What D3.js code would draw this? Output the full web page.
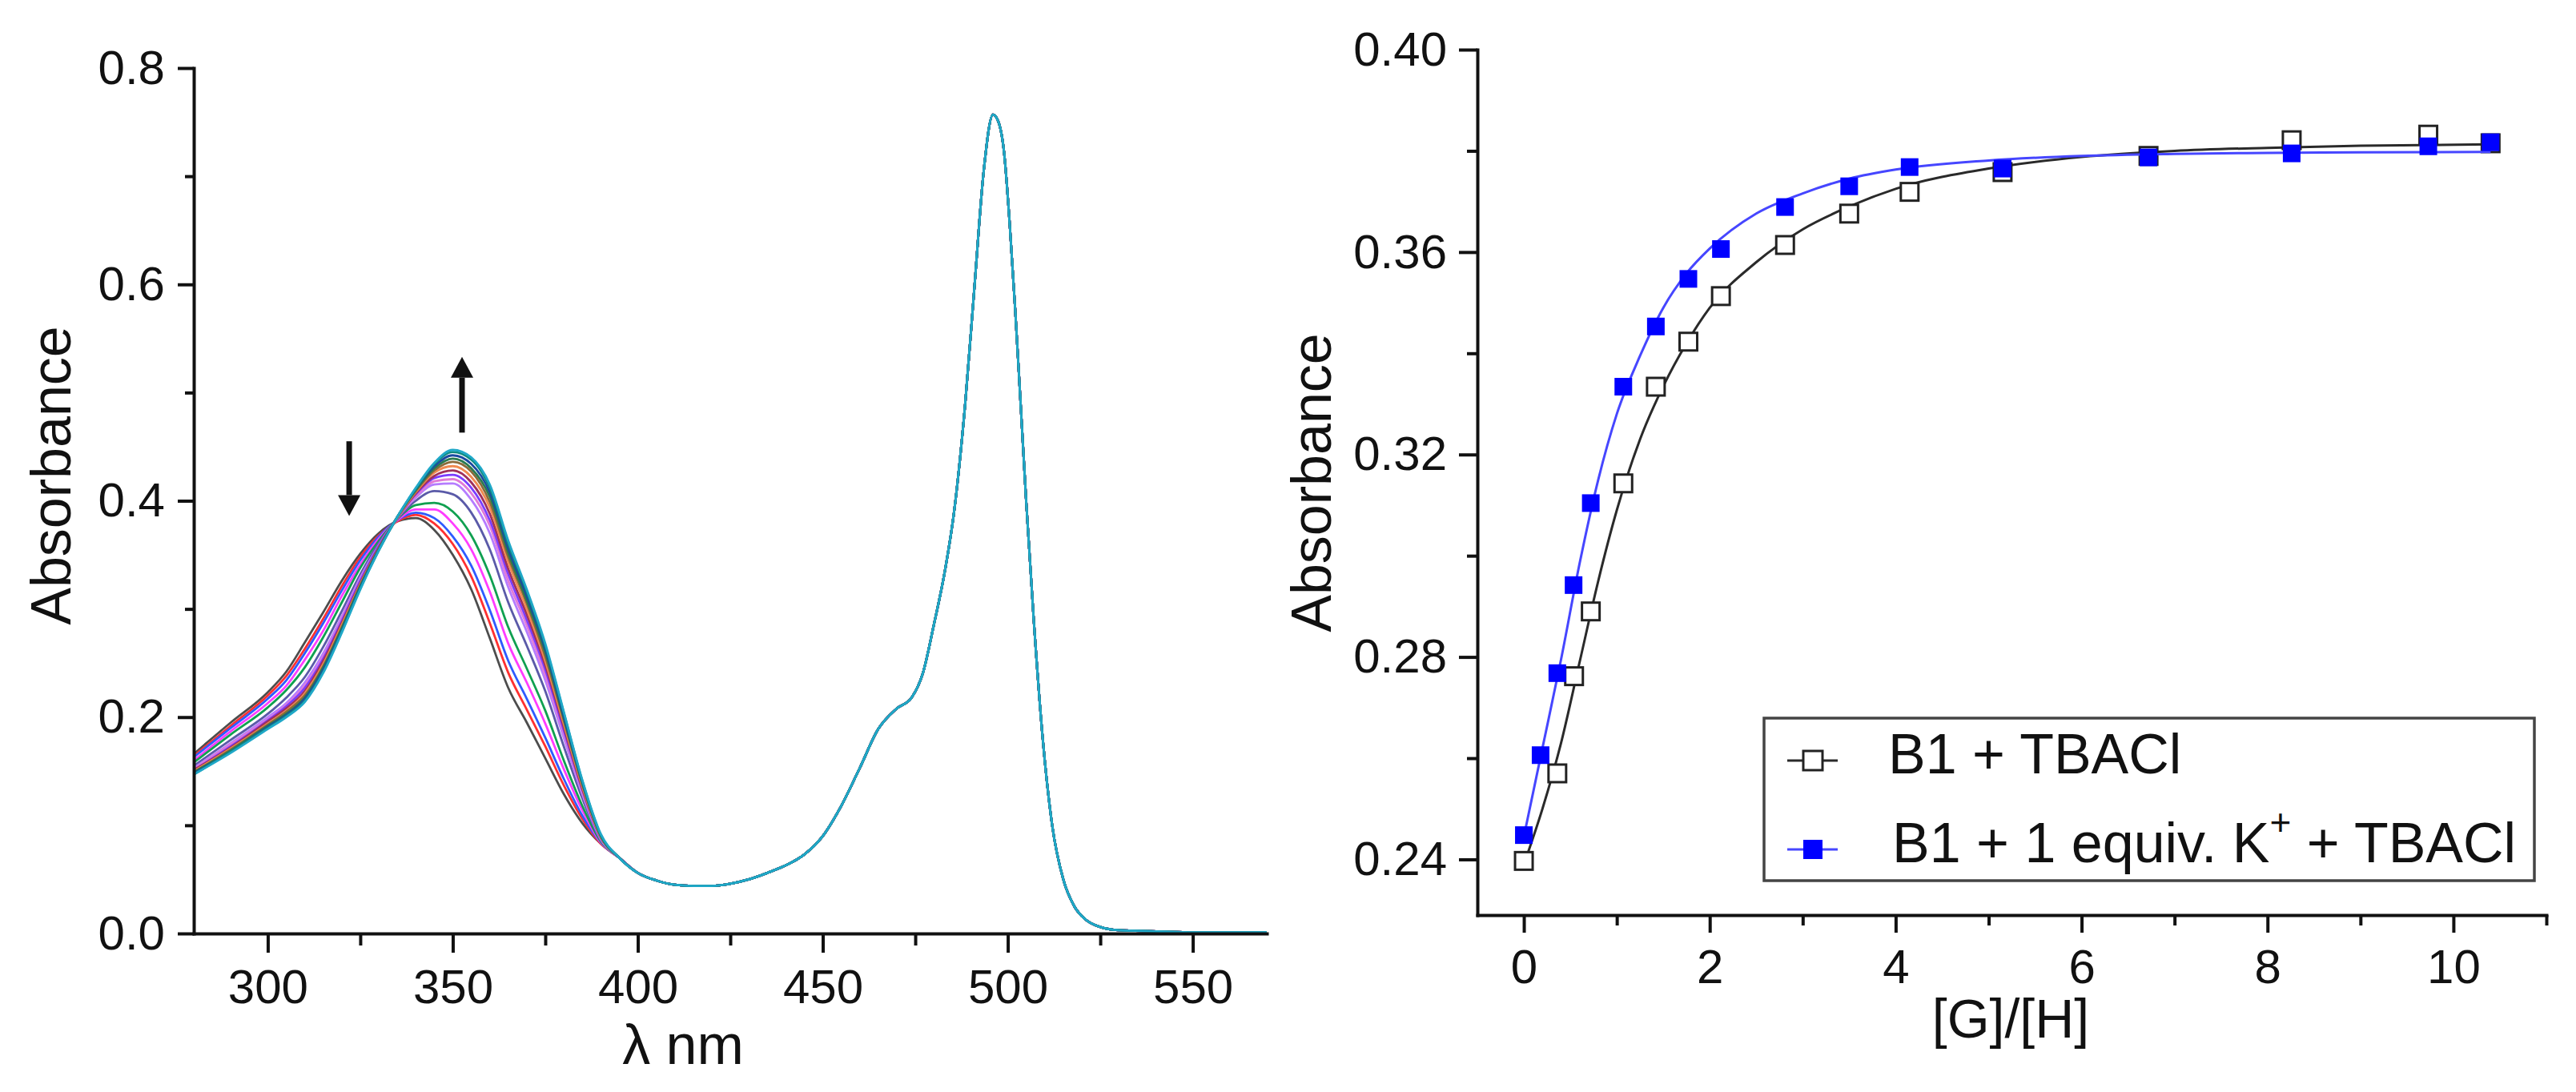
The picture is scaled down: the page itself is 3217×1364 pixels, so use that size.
<!DOCTYPE html>
<html>
<head>
<meta charset="utf-8">
<script src="https://cdn.jsdelivr.net/npm/d3@7/dist/d3.min.js"></script>
<style>
  body { margin: 0; background: #ffffff; }
  svg text { font-family: "Liberation Sans", Arial, sans-serif; fill: #111; }
</style>
</head>
<body>
<script>
// ---------- left panel: UV-vis titration spectra ----------
// wavelengths where the spectra differ (nm)
const headNm = [280, 290, 300, 305, 310, 315, 320, 325, 330, 335, 340, 345, 350, 355, 360, 365, 370, 375, 380, 385, 390];

// one row per spectrum, first (grey) to last (cyan)
const titrationAbs = [
  [0.166, 0.195, 0.223, 0.242, 0.269, 0.297, 0.326, 0.351, 0.370, 0.381, 0.384, 0.373, 0.350, 0.318, 0.273, 0.227, 0.195, 0.162, 0.129, 0.102, 0.083],
  [0.164, 0.192, 0.220, 0.238, 0.263, 0.291, 0.321, 0.348, 0.368, 0.381, 0.387, 0.379, 0.360, 0.330, 0.287, 0.241, 0.207, 0.173, 0.137, 0.106, 0.083],
  [0.163, 0.190, 0.217, 0.234, 0.259, 0.287, 0.317, 0.345, 0.367, 0.382, 0.389, 0.384, 0.367, 0.340, 0.299, 0.252, 0.217, 0.181, 0.143, 0.109, 0.084],
  [0.160, 0.187, 0.213, 0.229, 0.253, 0.280, 0.312, 0.341, 0.365, 0.382, 0.392, 0.392, 0.379, 0.355, 0.316, 0.268, 0.232, 0.194, 0.152, 0.114, 0.084],
  [0.158, 0.184, 0.209, 0.225, 0.246, 0.274, 0.306, 0.338, 0.363, 0.383, 0.396, 0.398, 0.390, 0.368, 0.331, 0.283, 0.245, 0.206, 0.160, 0.118, 0.085],
  [0.155, 0.179, 0.203, 0.218, 0.237, 0.265, 0.298, 0.332, 0.361, 0.383, 0.400, 0.409, 0.406, 0.389, 0.355, 0.306, 0.266, 0.224, 0.173, 0.125, 0.086],
  [0.153, 0.176, 0.200, 0.213, 0.232, 0.259, 0.293, 0.329, 0.359, 0.384, 0.403, 0.415, 0.416, 0.401, 0.370, 0.320, 0.279, 0.234, 0.181, 0.129, 0.087],
  [0.152, 0.175, 0.198, 0.211, 0.229, 0.256, 0.291, 0.327, 0.358, 0.384, 0.404, 0.418, 0.420, 0.407, 0.377, 0.326, 0.285, 0.239, 0.185, 0.131, 0.088],
  [0.151, 0.173, 0.197, 0.210, 0.227, 0.254, 0.289, 0.326, 0.358, 0.384, 0.406, 0.421, 0.424, 0.412, 0.382, 0.332, 0.290, 0.244, 0.188, 0.133, 0.088],
  [0.151, 0.172, 0.196, 0.208, 0.224, 0.252, 0.287, 0.324, 0.357, 0.384, 0.407, 0.423, 0.428, 0.417, 0.388, 0.337, 0.295, 0.248, 0.191, 0.134, 0.089],
  [0.150, 0.171, 0.194, 0.206, 0.222, 0.249, 0.285, 0.323, 0.356, 0.384, 0.408, 0.426, 0.432, 0.422, 0.394, 0.343, 0.300, 0.252, 0.194, 0.136, 0.089],
  [0.149, 0.170, 0.193, 0.205, 0.220, 0.247, 0.283, 0.322, 0.356, 0.385, 0.409, 0.428, 0.436, 0.427, 0.399, 0.348, 0.305, 0.256, 0.197, 0.138, 0.090],
  [0.149, 0.169, 0.192, 0.203, 0.218, 0.246, 0.282, 0.321, 0.355, 0.385, 0.410, 0.430, 0.439, 0.430, 0.404, 0.352, 0.308, 0.260, 0.199, 0.139, 0.090],
  [0.148, 0.168, 0.191, 0.202, 0.217, 0.244, 0.280, 0.320, 0.355, 0.385, 0.411, 0.432, 0.442, 0.434, 0.408, 0.356, 0.312, 0.263, 0.201, 0.140, 0.091],
  [0.147, 0.168, 0.190, 0.201, 0.215, 0.242, 0.279, 0.319, 0.354, 0.385, 0.411, 0.434, 0.445, 0.438, 0.412, 0.360, 0.316, 0.266, 0.204, 0.141, 0.091],
  [0.147, 0.167, 0.189, 0.200, 0.214, 0.241, 0.278, 0.318, 0.354, 0.385, 0.412, 0.435, 0.447, 0.440, 0.415, 0.363, 0.318, 0.268, 0.205, 0.142, 0.092]
];

// part of the spectrum shared by all curves
const tailNm  = [395, 400, 405, 410, 415, 420, 425, 430, 435, 440, 445, 450, 455, 460, 465, 470, 474, 477, 480, 483, 485.5, 488.5, 491, 493.5, 496, 497.5, 499, 500.5, 502, 503.5, 505, 507, 509.5, 512, 515, 518, 521, 525, 530, 540, 550, 570];
const tailAbs = [0.070, 0.056, 0.049, 0.045, 0.044, 0.044, 0.046, 0.050, 0.056, 0.063, 0.073, 0.090, 0.118, 0.153, 0.189, 0.208, 0.218, 0.240, 0.285, 0.335, 0.390, 0.490, 0.598, 0.705, 0.757, 0.750, 0.722, 0.657, 0.577, 0.488, 0.398, 0.291, 0.178, 0.100, 0.050, 0.025, 0.013, 0.006, 0.003, 0.002, 0.001, 0.001];

const spectrumColours = ["#4d4d4d", "#ff3030", "#2e5bff", "#ff3cff", "#10a050", "#5a5aa8", "#b57cff", "#e07ad8",
                         "#7a3cff", "#a0305a", "#f08a50", "#8a6a3a", "#2a7a50", "#1a4aa0", "#0f8a80", "#20a8c8"];

// arrows: wavelength, start and tip absorbance
const arrowNm   = [322, 352.5];
const arrowFrom = [0.455, 0.463];
const arrowTo   = [0.386, 0.533];

const nmTicks = [300, 350, 400, 450, 500, 550];
const nmMinor = [325, 375, 425, 475, 525];
const absTicksL = [0, 0.2, 0.4, 0.6, 0.8];
const absMinorL = [0.1, 0.3, 0.5, 0.7];

// ---------- right panel: titration isotherms ----------
const ratioB1 = [0, 0.36, 0.54, 0.72, 1.07, 1.42, 1.77, 2.12, 2.81, 3.5, 4.15, 5.15, 6.72, 8.26, 9.73, 10.4];
const absB1   = [0.2397, 0.2570, 0.2762, 0.2890, 0.3143, 0.3334, 0.3423, 0.3513, 0.3614, 0.3676, 0.3719, 0.3758, 0.3790, 0.3821, 0.3832, 0.3815];

const ratioB1K = [0, 0.18, 0.36, 0.535, 0.72, 1.07, 1.42, 1.77, 2.12, 2.81, 3.5, 4.15, 5.15, 6.72, 8.26, 9.73, 10.4];
const absB1K   = [0.2448, 0.2606, 0.2768, 0.2942, 0.3104, 0.3334, 0.3453, 0.3547, 0.3606, 0.3689, 0.3730, 0.3768, 0.3765, 0.3787, 0.3795, 0.3809, 0.3817];

// fitted curves
const fitRatio = [0, 0.2, 0.4, 0.6, 0.8, 1.0, 1.25, 1.5, 1.75, 2.0, 2.5, 3.0, 3.5, 4.0, 5.0, 6.0, 7.0, 8.0, 9.0, 10.4];
const fitB1    = [0.2390, 0.2500, 0.2630, 0.2790, 0.2950, 0.3090, 0.3230, 0.3335, 0.3420, 0.3490, 0.3580, 0.3645, 0.3690, 0.3725, 0.3765, 0.3788, 0.3800, 0.3806, 0.3810, 0.3813];
const fitB1K   = [0.2445, 0.2620, 0.2795, 0.2985, 0.3150, 0.3280, 0.3395, 0.3490, 0.3558, 0.3607, 0.3676, 0.3716, 0.3745, 0.3763, 0.3781, 0.3790, 0.3794, 0.3796, 0.3797, 0.3798];

const legendLabels = ["B1 + TBACl", "B1 + 1 equiv. K"];

const ratioTicks = [0, 2, 4, 6, 8, 10];
const ratioMinor = [1, 3, 5, 7, 9, 11];
const absTicksR = [0.24, 0.28, 0.32, 0.36, 0.40];
const absMinorR = [0.26, 0.30, 0.34, 0.38];

// ---------- drawing ----------
const W = 3217, H = 1364;
const FONT = "'Liberation Sans', Arial, sans-serif";

const svg = d3.select("body")
  .append("svg")
    .attr("width", W)
    .attr("height", H);

function styleAxis(g, fontSize) {
  g.attr("font-family", FONT).attr("font-size", fontSize);
  g.selectAll("path, line").attr("stroke", "#111").attr("stroke-width", 4);
  g.select(".domain").attr("stroke-linecap", "square");
  g.selectAll("text").attr("fill", "#111").style("font-size", fontSize + "px");
}

function addAxis(axis, x, y, fontSize) {
  svg.append("g")
    .attr("transform", "translate(" + x + "," + y + ")")
    .call(axis)
    .call(styleAxis, fontSize);
}

function addMinor(axis, x, y) {
  svg.append("g")
    .attr("transform", "translate(" + x + "," + y + ")")
    .call(axis.tickFormat(() => ""))
    .call(g => g.select(".domain").remove())
    .call(g => g.selectAll("line").attr("stroke", "#111").attr("stroke-width", 4));
}

// ===== left panel =====
const xNm  = d3.scaleLinear().domain([280, 570]).range([242, 1582]);
const yAbs = d3.scaleLinear().domain([0, 0.8]).range([1166, 85]);

const spectra = titrationAbs.map(row =>
  headNm.map((nm, i) => [nm, row[i]]).concat(tailNm.map((nm, i) => [nm, tailAbs[i]])));

const spectrumLine = d3.line()
  .x(d => xNm(d[0]))
  .y(d => yAbs(d[1]))
  .curve(d3.curveMonotoneX);

svg.append("g").attr("class", "spectra")
  .selectAll("path")
  .data(spectra)
  .enter()
  .append("path")
    .attr("d", spectrumLine)
    .attr("fill", "none")
    .attr("stroke", (d, i) => spectrumColours[i])
    .attr("stroke-width", 2.8)
    .attr("stroke-linejoin", "round");

// axes
addMinor(d3.axisBottom(xNm).tickValues(nmMinor).tickSize(15), 0, 1166);
addAxis(d3.axisBottom(xNm).tickValues(nmTicks).tickSize(24).tickSizeOuter(0).tickPadding(20), 0, 1166, 60);
addMinor(d3.axisLeft(yAbs).tickValues(absMinorL).tickSize(11), 242, 0);
addAxis(d3.axisLeft(yAbs).tickValues(absTicksL).tickSize(20).tickSizeOuter(0).tickPadding(16)
  .tickFormat(d3.format(".1f")), 242, 0, 60);

// arrows
arrowNm.forEach((nm, i) => {
  const x = xNm(nm), y0 = yAbs(arrowFrom[i]), y1 = yAbs(arrowTo[i]);
  const dir = y1 > y0 ? 1 : -1;
  const headLen = 26, headHalf = 14;
  svg.append("line")
    .attr("x1", x).attr("x2", x)
    .attr("y1", y0).attr("y2", y1 - dir * headLen)
    .attr("stroke", "#111").attr("stroke-width", 7);
  svg.append("path")
    .attr("d", "M" + x + "," + y1 + "L" + (x - headHalf) + "," + (y1 - dir * headLen) +
               "L" + (x + headHalf) + "," + (y1 - dir * headLen) + "Z")
    .attr("fill", "#111");
});

// axis titles
svg.append("text")
  .attr("transform", "translate(88,594) rotate(-90)")
  .attr("text-anchor", "middle")
  .style("font-size", "70px")
  .text("Absorbance");

svg.append("text")
  .attr("x", 853).attr("y", 1329)
  .attr("text-anchor", "middle")
  .style("font-size", "70px")
  .text("λ nm");

// ===== right panel =====
const xRatio = d3.scaleLinear().domain([-0.5, 11]).range([1845, 3180]);
const yAbsR  = d3.scaleLinear().domain([0.229, 0.40]).range([1143, 62]);

const fitLine = d3.line()
  .x(d => xRatio(d[0]))
  .y(d => yAbsR(d[1]))
  .curve(d3.curveMonotoneX);

const seriesList = [
  { ratio: ratioB1,  abs: absB1,  fit: fitB1,  line: "#2a2a2a", stroke: "#222", fill: "#ffffff" },
  { ratio: ratioB1K, abs: absB1K, fit: fitB1K, line: "#4646ff", stroke: "none", fill: "#0000ff" }
];

const SQ = 22;
seriesList.forEach(s => {
  svg.append("path")
    .attr("d", fitLine(fitRatio.map((r, i) => [r, s.fit[i]])))
    .attr("fill", "none")
    .attr("stroke", s.line)
    .attr("stroke-width", 3);

  svg.append("g")
    .selectAll("rect")
    .data(s.ratio.map((r, i) => [r, s.abs[i]]))
    .enter()
    .append("rect")
      .attr("x", d => xRatio(d[0]) - SQ / 2)
      .attr("y", d => yAbsR(d[1]) - SQ / 2)
      .attr("width", SQ)
      .attr("height", SQ)
      .attr("fill", s.fill)
      .attr("stroke", s.stroke)
      .attr("stroke-width", 3);
});

addMinor(d3.axisBottom(xRatio).tickValues(ratioMinor).tickSize(13), 0, 1143);
addAxis(d3.axisBottom(xRatio).tickValues(ratioTicks).tickSize(22).tickSizeOuter(0).tickPadding(20)
  .tickFormat(d3.format("d")), 0, 1143, 60);
addMinor(d3.axisLeft(yAbsR).tickValues(absMinorR).tickSize(13), 1845, 0);
addAxis(d3.axisLeft(yAbsR).tickValues(absTicksR).tickSize(23).tickSizeOuter(0).tickPadding(15)
  .tickFormat(d3.format(".2f")), 1845, 0, 60);

svg.append("text")
  .attr("transform", "translate(1662,603) rotate(-90)")
  .attr("text-anchor", "middle")
  .style("font-size", "70px")
  .text("Absorbance");

svg.append("text")
  .attr("x", 2511).attr("y", 1296)
  .attr("text-anchor", "middle")
  .style("font-size", "68px")
  .text("[G]/[H]");

// legend
const legend = svg.append("g");
legend.append("rect")
  .attr("x", 2203).attr("y", 897)
  .attr("width", 962).attr("height", 203)
  .attr("fill", "#fff")
  .attr("stroke", "#444")
  .attr("stroke-width", 3.5);

const legendY = [950, 1061];
const legendTextX = [2358, 2363];
seriesList.forEach((s, i) => {
  legend.append("line")
    .attr("x1", 2232).attr("x2", 2295)
    .attr("y1", legendY[i]).attr("y2", legendY[i])
    .attr("stroke", s.line).attr("stroke-width", 3);
  legend.append("rect")
    .attr("x", 2264 - 12).attr("y", legendY[i] - 12)
    .attr("width", 24).attr("height", 24)
    .attr("fill", s.fill)
    .attr("stroke", s.stroke)
    .attr("stroke-width", 3);
  const t = legend.append("text")
    .attr("x", legendTextX[i])
    .attr("y", legendY[i] + 16)
    .style("font-size", "70px")
    .text(legendLabels[i]);
  if (i === 1) {
    t.append("tspan").attr("dy", -34).style("font-size", "46px").text("+");
    t.append("tspan").attr("dy", 34).text(" + TBACl");
  }
});
</script>
</body>
</html>
